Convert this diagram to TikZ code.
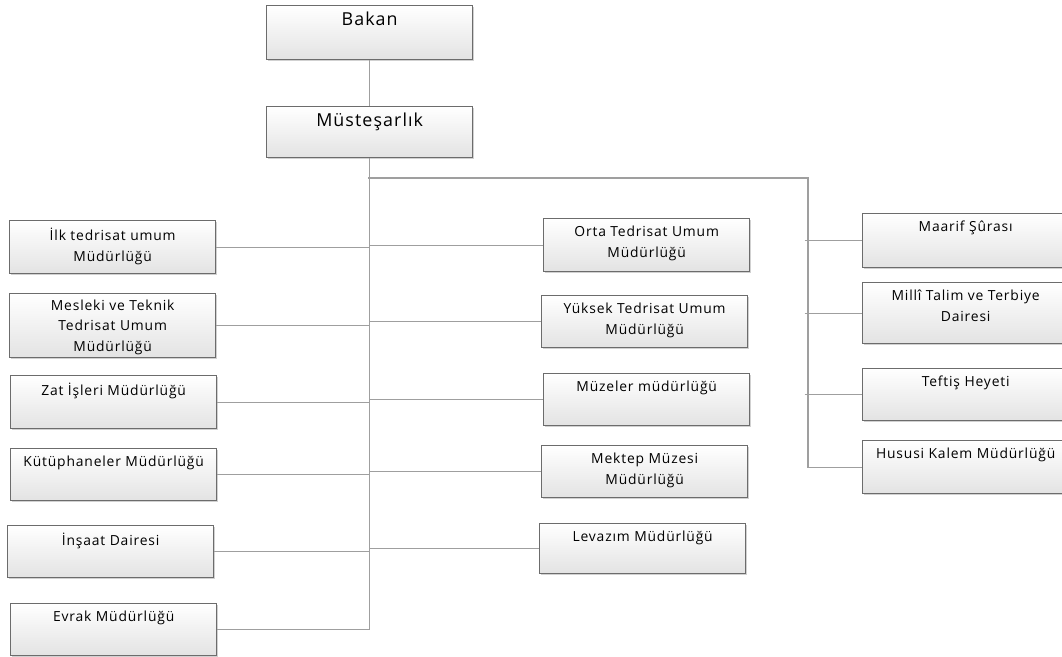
\documentclass[tikz,border=0pt]{standalone}
\usepackage{fontspec}
\setmainfont[LetterSpace=6]{Open Sans}
\usetikzlibrary{shadows}
\newcommand{\bt}[2]{\parbox[c][#1][t]{154pt}{\centering\fontsize{10.4}{15.5}\selectfont\vspace*{5.5pt}#2}}
\newcommand{\btbig}[2]{\parbox[c][#1][t]{154pt}{\centering\fontsize{13.4}{16}\selectfont\vspace*{4.5pt}#2}}
\tikzset{
  orgbox/.style={rectangle, anchor=north west, inner sep=0pt, draw=gray!85!black, line width=1pt,
    top color=white, bottom color=gray!22, minimum width=154.5pt,
    drop shadow={shadow xshift=0.8pt, shadow yshift=-0.8pt, fill=gray!60, opacity=0.6}},
  link/.style={draw=gray!75, line width=0.8pt}
}
\begin{document}
\begin{tikzpicture}[x=0.75pt,y=-0.75pt]
\useasboundingbox (0,0) rectangle (1062,656);
% top
\node[orgbox] (bakan) at (266,5) {\btbig{40.5pt}{Bakan}};
\node[orgbox] (mustesar) at (266,106) {\btbig{38.25pt}{Müsteşarlık}};
% left column
\node[orgbox] (ilk) at (9,220) {\bt{39.75pt}{İlk tedrisat umum\\Müdürlüğü}};
\node[orgbox] (mesleki) at (9,293) {\bt{48pt}{\vspace*{-1pt}Mesleki ve Teknik\\Tedrisat Umum\\Müdürlüğü}};
\node[orgbox] (zat) at (10,375) {\bt{39.75pt}{Zat İşleri Müdürlüğü}};
\node[orgbox] (kutup) at (10,448) {\bt{39pt}{Kütüphaneler Müdürlüğü}};
\node[orgbox] (insaat) at (7,525) {\bt{39pt}{İnşaat Dairesi}};
\node[orgbox] (evrak) at (10,603) {\bt{39pt}{Evrak Müdürlüğü}};
% middle column
\node[orgbox] (orta) at (543,218) {\bt{39.75pt}{Orta Tedrisat Umum\\Müdürlüğü}};
\node[orgbox] (yuksek) at (541,295) {\bt{39pt}{Yüksek Tedrisat Umum\\Müdürlüğü}};
\node[orgbox] (muze) at (543,373) {\bt{39pt}{Müzeler müdürlüğü}};
\node[orgbox] (mektep) at (541,445) {\bt{39pt}{Mektep Müzesi\\Müdürlüğü}};
\node[orgbox] (levazim) at (539,523) {\bt{37.5pt}{Levazım Müdürlüğü}};
% right column
\node[orgbox] (maarif) at (862,213) {\bt{40.5pt}{Maarif Şûrası}};
\node[orgbox] (milli) at (862,282) {\bt{45.75pt}{Millî Talim ve Terbiye\\Dairesi}};
\node[orgbox] (teftis) at (862,368) {\bt{39pt}{Teftiş Heyeti}};
\node[orgbox] (hususi) at (862,440) {\bt{39.75pt}{Hususi Kalem Müdürlüğü}};
% spine coordinates
\coordinate (sp) at (mustesar.south);
\coordinate (brL) at (368,178);
\coordinate (brR) at (808,178);
% connectors
\draw[link] (bakan.south) -- (mustesar.north);
\draw[link] (mustesar.south) |- (evrak.east);
\draw[link] (ilk.east) -- (ilk.east -| sp);
\draw[link] (mesleki.east) -- (mesleki.east -| sp);
\draw[link] (zat.east) -- (zat.east -| sp);
\draw[link] (kutup.east) -- (kutup.east -| sp);
\draw[link] (insaat.east) -- (insaat.east -| sp);
\draw[link] (orta.west -| sp) -- (orta.west);
\draw[link] (yuksek.west -| sp) -- (yuksek.west);
\draw[link] (muze.west -| sp) -- (muze.west);
\draw[link] (mektep.west -| sp) -- (mektep.west);
\draw[link] (levazim.west -| sp) -- (levazim.west);
\draw[link] (brL) -- (brR) |- (hususi.west);
\draw[link] ([xshift=-2.5pt]maarif.west -| brR) -- (maarif.west);
\draw[link] ([xshift=-2.5pt]milli.west -| brR) -- (milli.west);
\draw[link] ([xshift=-2.5pt]teftis.west -| brR) -- (teftis.west);
\end{tikzpicture}
\end{document}
